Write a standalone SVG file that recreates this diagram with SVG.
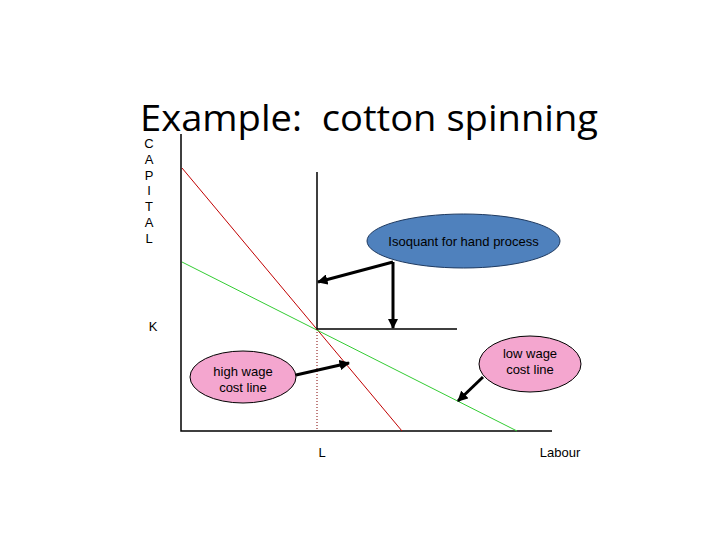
<svg xmlns="http://www.w3.org/2000/svg" width="720" height="540" viewBox="0 0 720 540">
<style>
.t{font-family:"Liberation Sans",Arial,sans-serif;font-size:13px;fill:#000}
.c{text-anchor:middle}
.ax{stroke:#000;stroke-width:1.5;fill:none}
.arr{stroke:#000;stroke-width:3;fill:none;marker-end:url(#ah)}
.pink{fill:#f4a6cf;stroke:#000;stroke-width:1}
</style>
<defs>
<marker id="ah" viewBox="0 0 10 10" refX="9" refY="5" markerWidth="3.5" markerHeight="3.5" orient="auto" markerUnits="strokeWidth">
<path d="M0,0 L10,5 L0,10 z" fill="#000"/>
</marker>
</defs>
<rect width="720" height="540" fill="#fff"/>
<text x="140" y="131" xml:space="preserve" style="white-space:pre" font-family="'Open Sans','Noto Sans',sans-serif" font-size="36" textLength="458" lengthAdjust="spacingAndGlyphs">Example:  cotton spinning</text>
<g id="axis-labels">
<text class="t c" x="149" y="148">C</text>
<text class="t c" x="149" y="164">A</text>
<text class="t c" x="149" y="180">P</text>
<text class="t c" x="149" y="195">I</text>
<text class="t c" x="149" y="211">T</text>
<text class="t c" x="149" y="227">A</text>
<text class="t c" x="149" y="243">L</text>
<text class="t c" x="153" y="331">K</text>
<text class="t c" x="322" y="457">L</text>
<text class="t c" x="560" y="457">Labour</text>
</g>
<g id="connectors">
<polyline class="ax" points="181,134 181,431 552,431"/>
<line x1="182" y1="168" x2="402" y2="431" stroke="#c00000" stroke-width="1"/>
<line x1="182" y1="262" x2="517" y2="431" stroke="#33cc33" stroke-width="1"/>
<polyline class="ax" points="317,172 317,329 457,329"/>
<line x1="317" y1="329" x2="317" y2="431" stroke="#800000" stroke-width="1" stroke-dasharray="1,2"/>
<line class="arr" x1="393" y1="262" x2="318" y2="282"/>
<line class="arr" x1="393" y1="262" x2="393" y2="328"/>
<line class="arr" x1="296" y1="375" x2="349" y2="363"/>
<line class="arr" x1="483" y1="377" x2="458" y2="401"/>
</g>
<g id="isoquant-label">
<ellipse cx="463.5" cy="241" rx="96.5" ry="27" fill="#4f81bd" stroke="#1f3a60" stroke-width="1"/>
<text class="t c" x="463.5" y="246" fill="#000">Isoquant for hand process</text>
</g>
<g id="high-wage-label">
<ellipse class="pink" cx="243" cy="377" rx="53" ry="26"/>
<text class="t c" x="243" y="376">high wage</text>
<text class="t c" x="243" y="392">cost line</text>
</g>
<g id="low-wage-label">
<ellipse class="pink" cx="530" cy="364" rx="51" ry="28"/>
<text class="t c" x="530" y="358">low wage</text>
<text class="t c" x="530" y="374">cost line</text>
</g>
</svg>
